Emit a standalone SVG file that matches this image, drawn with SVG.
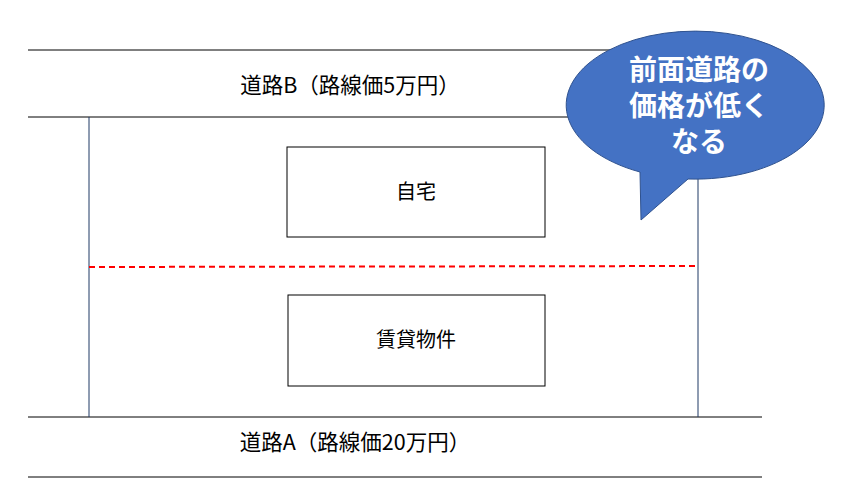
<svg xmlns="http://www.w3.org/2000/svg" width="846" height="504" viewBox="0 0 846 504">
<style>
.l{stroke:#000;stroke-width:1;fill:none}
.t{font-family:"Noto Sans CJK JP","Liberation Sans",sans-serif;font-size:20px;fill:#000;text-anchor:middle}
.r{font-family:"Noto Sans CJK JP","Liberation Sans",sans-serif;font-size:21.5px;fill:#000;text-anchor:middle}
.b{font-family:"Noto Sans CJK JP",sans-serif;font-size:28px;font-weight:bold;fill:#fff;text-anchor:middle}
</style>
<rect width="846" height="504" fill="#fff"/>
<g id="connectors">
<line class="l" x1="28" y1="50" x2="760" y2="50"/>
<line class="l" x1="28" y1="117" x2="600" y2="117"/>
<line class="l" x1="28" y1="417" x2="762" y2="417"/>
<line class="l" x1="28" y1="477" x2="762" y2="477"/>
<line x1="89" y1="117" x2="89" y2="417" stroke="#1F3864" stroke-width="1"/>
<line x1="698" y1="175" x2="698" y2="417" stroke="#1F3864" stroke-width="1"/>
<line x1="89" y1="267" x2="698" y2="266" stroke="#FF0000" stroke-width="2" stroke-dasharray="6,4"/>
</g>
<g id="roadB"><text class="r" x="350" y="93">道路B（路線価5万円）</text></g>
<g id="roadA"><text class="r" x="355" y="450">道路A（路線価20万円）</text></g>
<g id="home"><rect class="l" x="287" y="147" width="258" height="90"/><text class="t" x="416" y="199">自宅</text></g>
<g id="rental"><rect class="l" x="288" y="295" width="257" height="91"/><text class="t" x="416" y="347">賃貸物件</text></g>
<g id="bubble">
<path d="M640,172 A129,74 0 1 1 688,179 L641,220 Z" fill="#4472C4" stroke="#2F528F" stroke-width="1"/>
<text class="b" x="699" y="80">前面道路の</text>
<text class="b" x="699" y="116">価格が低く</text>
<text class="b" x="699" y="152">なる</text>
</g>
</svg>
